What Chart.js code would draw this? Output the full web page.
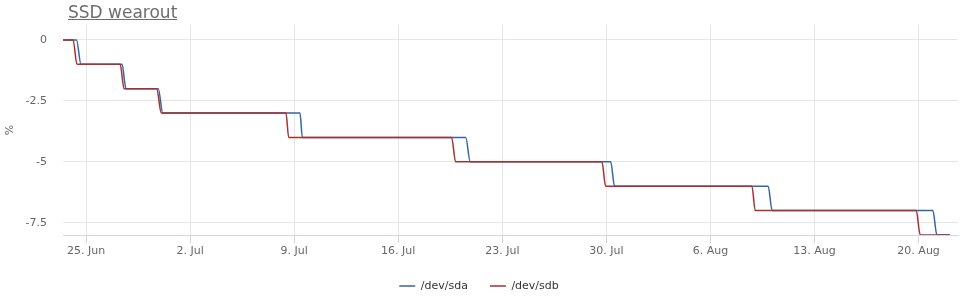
<!DOCTYPE html>
<html>
<head>
<meta charset="utf-8">
<script src="https://cdn.jsdelivr.net/npm/chart.js@4.4.1/dist/chart.umd.min.js"></script>
<style>
  html, body { margin: 0; padding: 0; background: #fff; }
  #wrap { position: relative; width: 965px; height: 296px; }
  #title { position: absolute; left: 68px; top: 4px; font: 17px/17px "DejaVu Sans", sans-serif; color: #6e6e6e; text-decoration: underline; }
</style>
</head>
<body>
<div id="wrap">
  <div id="title">SSD wearout</div>
  <canvas id="chart"></canvas>
</div>
<script>
// x values are days counted from 25 Jun
const tickDays = [0, 7, 14, 21, 28, 35, 42, 49, 56];
const tickLabels = ['25. Jun', '2. Jul', '9. Jul', '16. Jul', '23. Jul', '30. Jul', '6. Aug', '13. Aug', '20. Aug'];
const yTicks = [0, -2.5, -5, -7.5];
const levels = [0, -1, -2, -3, -4, -5, -6, -7, -8];
const firstDay = -1.55;
const lastDay = 58.1;
// [start, end] of each 1% step down
const sdaDrops = [[-0.64, -0.34], [2.42, 2.69], [4.86, 5.16], [14.39, 14.55], [25.54, 25.84], [35.29, 35.55], [45.88, 46.15], [56.96, 57.23]];
const sdbDrops = [[-0.87, -0.61], [2.29, 2.56], [4.75, 5.06], [13.45, 13.63], [24.59, 24.86], [34.70, 34.95], [44.79, 45.01], [55.84, 56.11]];

function stepPoints(drops) {
  const pts = [{ x: firstDay, y: levels[0] }];
  drops.forEach((d, i) => {
    pts.push({ x: d[0], y: levels[i] });
    pts.push({ x: d[1], y: levels[i + 1] });
  });
  pts.push({ x: lastDay, y: levels[levels.length - 1] });
  return pts;
}

const font = { family: '"DejaVu Sans", sans-serif', size: 11 };

new Chart(document.getElementById('chart'), {
  type: 'line',
  data: {
    datasets: [
      // sdb is drawn over sda, like the original
      { label: '/dev/sda', data: stepPoints(sdaDrops), order: 1, borderColor: '#3565a5', backgroundColor: '#3565a5', borderWidth: 1.5, pointRadius: 0, cubicInterpolationMode: 'monotone', pointStyle: 'line' },
      { label: '/dev/sdb', data: stepPoints(sdbDrops), order: 0, borderColor: '#a8312f', backgroundColor: '#a8312f', borderWidth: 1.5, pointRadius: 0, cubicInterpolationMode: 'monotone', pointStyle: 'line' }
    ]
  },
  options: {
    responsive: true,
    maintainAspectRatio: false,
    animation: false,
    layout: { padding: { top: 25, right: 7, left: 0, bottom: -5.5 } },
    plugins: {
      tooltip: { enabled: false },
      legend: {
        position: 'bottom',
        labels: {
          usePointStyle: true, pointStyleWidth: 16, boxHeight: 11, padding: 22, color: '#333333', font: font,
          sort: (a, b) => a.datasetIndex - b.datasetIndex
        }
      }
    },
    scales: {
      x: {
        type: 'linear',
        min: firstDay,
        max: 58.65,
        afterBuildTicks: s => { s.ticks = tickDays.map(v => ({ value: v })); },
        afterFit: s => { s.height = 23.5; },
        grid: { color: '#e6e6e6', tickColor: '#ccd6eb', tickLength: 8 },
        border: { color: '#ccd6eb' },
        ticks: { color: '#666666', font: font, padding: 2, maxRotation: 0, callback: v => tickLabels[tickDays.indexOf(v)] }
      },
      y: {
        min: -8,
        max: 0.615,
        afterBuildTicks: s => { s.ticks = yTicks.map(v => ({ value: v })); },
        afterFit: s => { s.width = 63; },
        grid: { color: '#e6e6e6', drawTicks: false },
        border: { display: false },
        title: { display: true, text: '%', color: '#666666', font: font, padding: { top: 4, bottom: 0 } },
        ticks: { color: '#666666', font: font, padding: 16, callback: v => String(v) }
      }
    }
  }
});
</script>
</body>
</html>
